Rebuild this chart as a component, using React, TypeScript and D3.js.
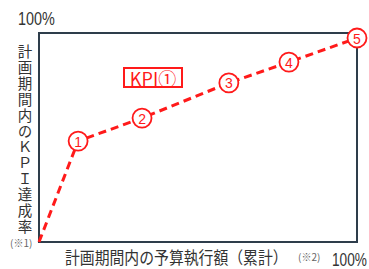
import React from 'react';
import * as d3 from 'd3';

// 予算執行率 (%) と KPI 達成率 (%)
const budgetPct = [0, 12.3, 32.4, 59.7, 78.6, 100];
const kpiPct = [0, 48.3, 59.3, 76.1, 86.1, 97.6];
const pointLabels = ['', '1', '2', '3', '4', '5'];

const yTitle = '計画期間内のＫＰＩ達成率';
const xTitle = '計画期間内の予算執行額（累計）';
const topLabel = '100%';
const rightLabel = '100%';
const kpiLabel = 'KPI①';

const W = 369, H = 269;
const margin = { top: 33, right: 12, bottom: 27, left: 39 };
const RED = '#ff1a1a';
const FONT = "'Noto Sans CJK JP', 'Noto Sans', sans-serif";
const NUM_FONT = "'Liberation Sans', sans-serif";

export default function App() {
  const x = d3.scaleLinear().domain([0, 100]).range([margin.left, W - margin.right]);
  const y = d3.scaleLinear().domain([0, 100]).range([H - margin.bottom, margin.top]);

  const line = d3.line<number>()
    .x((_, i) => x(budgetPct[i]))
    .y(d => y(d));

  const x0 = x(0), x1 = x(100), y0 = y(0), y1 = y(100);

  return (
    <svg width={W} height={H} style={{ position: 'fixed', left: 0, top: 0, background: '#fff' }}
      fontFamily={FONT}>
      {/* 枠 */}
      <path d={`M${x0},${y1}H${x1}V${y0}H${x0}Z`} fill="none" stroke="#2e3d4b" strokeWidth={2} />

      {/* 100% ラベル (縦長の書体に見せるため横方向を縮める) */}
      <text transform="translate(18,25) scale(0.8,1)" fontSize={18} fill="#333" fontFamily={NUM_FONT}>{topLabel}</text>
      <text transform="translate(332,266) scale(0.78,1)" fontSize={17.5} fill="#333" fontFamily={NUM_FONT}>{rightLabel}</text>

      {/* 縦軸タイトル */}
      <text x={25} y={44.5} fontSize={14.5} fill="#333" letterSpacing={1.4}
        style={{ writingMode: 'vertical-rl', textOrientation: 'upright' }}>{yTitle}</text>
      <text x={10} y={247} fontSize={10} fill="#666">(※1)</text>

      {/* 横軸タイトル */}
      <text transform="translate(65,264) scale(0.9,1)" fontSize={16.5} fill="#333">{xTitle}</text>
      <text x={298} y={261} fontSize={10} fill="#666">(※2)</text>

      {/* KPI ライン */}
      <path d={line(kpiPct) ?? ''} fill="none" stroke={RED} strokeWidth={3} strokeDasharray="8,5" />

      {kpiPct.map((v, i) => i === 0 ? null : (
        <g key={i} transform={`translate(${x(budgetPct[i])},${y(v)})`}>
          <circle r={9.5} fill="#fff" stroke={RED} strokeWidth={1.8} />
          <text y={0.5} fontSize={14} fill={RED} textAnchor="middle" dominantBaseline="central"
            fontFamily={NUM_FONT}>{pointLabels[i]}</text>
        </g>
      ))}

      {/* KPI① ラベル */}
      <rect x={124} y={68} width={58} height={19} fill="#fff" stroke={RED} strokeWidth={2} />
      <text transform="translate(153,78) scale(1.0,1)" fontSize={18} fill={RED} textAnchor="middle"
        dominantBaseline="central">{kpiLabel}</text>
    </svg>
  );
}
